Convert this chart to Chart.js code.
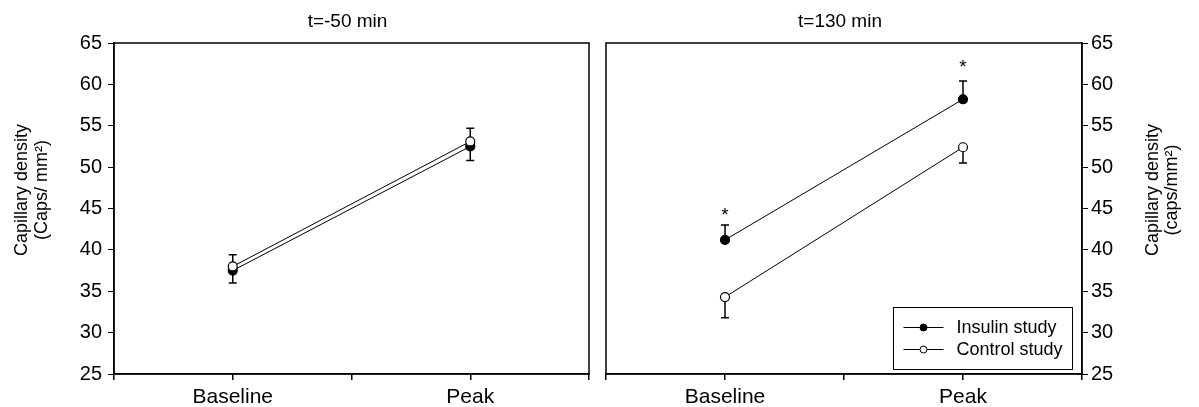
<!DOCTYPE html>
<html lang="en">
<head>
<meta charset="UTF-8" />
<title>Capillary density</title>
<script src="https://cdn.jsdelivr.net/npm/chart.js"></script>
<style>
  body { margin: 0; background: #fff; }
  .wrap { position: relative; width: 1199px; height: 407px; }
  .panel { position: absolute; top: 0; height: 407px; }
  #left { left: 0; width: 600px; }
  #right { left: 600px; width: 599px; }
</style>
</head>
<body>
<div class="wrap">
  <div class="panel" id="left"><canvas id="leftChart" width="600" height="407"></canvas></div>
  <div class="panel" id="right"><canvas id="rightChart" width="599" height="407"></canvas></div>
</div>
<script>
// categories sit on a 0..4 axis, ticks every 1
const categories = ["Baseline", "Peak"];
const catPos = [1, 3];
const seriesNames = ["Insulin study", "Control study"];

// t=-50 min panel
const earlyInsulin = [37.5, 52.5];
const earlyInsulinErr = [36.0, 50.8];
const earlyControl = [38.0, 53.1];
const earlyControlErr = [39.4, 54.7];

// t=130 min panel
const lateInsulin = [41.2, 58.2];
const lateInsulinErr = [43.0, 60.4];
const lateControl = [34.3, 52.4];
const lateControlErr = [31.8, 50.5];
const lateStars = [44.6, 62.5];

const FONT = '"Liberation Sans", Arial, sans-serif';
Chart.defaults.font.family = FONT;
Chart.defaults.color = "#000";

function pts(vals) {
  return vals.map((v, i) => ({ x: catPos[i], y: v }));
}

function dataset(label, vals, errs, fill, order) {
  return {
    label: label,
    data: pts(vals),
    errEnds: errs,
    borderColor: "#000",
    borderWidth: 1,
    pointRadius: 4.5,
    pointHoverRadius: 4.5,
    pointBorderWidth: 1.2,
    pointBorderColor: "#000",
    pointBackgroundColor: fill,
    order: order,
  };
}

// error bars (one sided) + frame + titles
function decorPlugin(title, yTitle, titleX, stars) {
  return {
    id: "decor",
    beforeDatasetsDraw(chart) {
      const ctx = chart.ctx;
      const xs = chart.scales.x, ys = chart.scales.y;
      ctx.save();
      ctx.strokeStyle = "#000";
      ctx.lineWidth = 1.5;
      chart.data.datasets.forEach((ds) => {
        ds.data.forEach((p, i) => {
          const x = xs.getPixelForValue(p.x);
          const y0 = ys.getPixelForValue(p.y);
          const y1 = ys.getPixelForValue(ds.errEnds[i]);
          ctx.beginPath();
          ctx.moveTo(x, y0);
          ctx.lineTo(x, y1);
          ctx.moveTo(x - 4, y1);
          ctx.lineTo(x + 4, y1);
          ctx.stroke();
        });
      });
      ctx.restore();
    },
    afterDraw(chart) {
      const ctx = chart.ctx;
      const a = chart.chartArea;
      ctx.save();
      ctx.strokeStyle = "#000";
      ctx.lineWidth = 1.5;
      ctx.strokeRect(a.left, a.top, a.right - a.left, a.bottom - a.top);

      ctx.fillStyle = "#000";
      ctx.font = "19px " + FONT;
      ctx.textAlign = "center";
      ctx.textBaseline = "middle";
      ctx.fillText(title, (a.left + a.right) / 2 - 4, 22);

      ctx.font = "18px " + FONT;
      const cy = 190;
      yTitle.forEach((line, i) => {
        ctx.save();
        ctx.translate(titleX[i], cy);
        ctx.rotate(-Math.PI / 2);
        ctx.fillText(line, 0, 0);
        ctx.restore();
      });

      if (stars) {
        const xs = chart.scales.x, ys = chart.scales.y;
        ctx.font = "19px " + FONT;
        ctx.textBaseline = "alphabetic";
        stars.forEach((v, i) => {
          ctx.fillText("*", xs.getPixelForValue(catPos[i]), ys.getPixelForValue(v) + 9);
        });
      }
      ctx.restore();
    },
  };
}

const legendPlugin = {
  id: "boxLegend",
  afterDraw(chart) {
    const ctx = chart.ctx;
    const bx = 293.5, by = 307.5, bw = 179, bh = 62;
    ctx.save();
    ctx.fillStyle = "#fff";
    ctx.fillRect(bx, by, bw, bh);
    ctx.strokeStyle = "#000";
    ctx.lineWidth = 1;
    ctx.strokeRect(bx, by, bw, bh);
    chart.data.datasets.forEach((ds, row) => {
      const y = by + 20 + row * 22;
      ctx.beginPath();
      ctx.moveTo(bx + 10, y);
      ctx.lineTo(bx + 50, y);
      ctx.stroke();
      ctx.beginPath();
      ctx.arc(bx + 30, y, 3.5, 0, Math.PI * 2);
      ctx.fillStyle = ds.pointBackgroundColor;
      ctx.fill();
      ctx.stroke();
      ctx.fillStyle = "#000";
      ctx.font = "18px " + FONT;
      ctx.textAlign = "left";
      ctx.textBaseline = "middle";
      ctx.fillText(ds.label, bx + 63, y + 1);
    });
    ctx.restore();
  },
};

function options(yPos, yWidth, pad, tickPad) {
  return {
    responsive: false,
    animation: false,
    layout: { padding: pad },
    plugins: { legend: { display: false }, title: { display: false }, tooltip: { enabled: false } },
    scales: {
      x: {
        type: "linear",
        min: 0,
        max: 4,
        afterFit(s) { s.height = 33; },
        afterBuildTicks(s) { s.ticks = [0, 1, 2, 3, 4].map((v) => ({ value: v })); },
        ticks: {
          autoSkip: false,
          maxRotation: 0,
          padding: 5,
          font: { size: 21 },
          color: "#000",
          callback: (v) => { const i = catPos.indexOf(v); return i >= 0 ? categories[i] : ""; },
        },
        grid: { drawOnChartArea: false, drawTicks: true, tickLength: 6, color: "#000", lineWidth: 1.5 },
        border: { display: true, color: "#000", width: 1.5 },
      },
      y: {
        position: yPos,
        min: 25,
        max: 65,
        afterFit(s) { s.width = yWidth; },
        ticks: { stepSize: 5, padding: tickPad, font: { size: 20 }, color: "#000" },
        grid: { drawOnChartArea: false, drawTicks: true, tickLength: 6, color: "#000", lineWidth: 1 },
        border: { display: true, color: "#000", width: 1.5 },
      },
    },
  };
}

new Chart(document.getElementById("leftChart"), {
  type: "line",
  data: {
    datasets: [
      dataset(seriesNames[0], earlyInsulin, earlyInsulinErr, "#000", 2),
      dataset(seriesNames[1], earlyControl, earlyControlErr, "#fff", 1),
    ],
  },
  options: options("left", 114, { left: 0, right: 11, top: 43, bottom: 0 }, 6),
  plugins: [decorPlugin("t=-50 min", ["Capillary density", "(Caps/ mm²)"], [22, 42], null)],
});

new Chart(document.getElementById("rightChart"), {
  type: "line",
  data: {
    datasets: [
      dataset(seriesNames[0], lateInsulin, lateInsulinErr, "#000", 1),
      dataset(seriesNames[1], lateControl, lateControlErr, "#fff", 2),
    ],
  },
  options: options("right", 117, { left: 6, right: 0, top: 43, bottom: 0 }, 3),
  plugins: [
    decorPlugin("t=130 min", ["Capillary density", "(caps/mm²)"], [553, 572], lateStars),
    legendPlugin,
  ],
});
</script>
</body>
</html>
